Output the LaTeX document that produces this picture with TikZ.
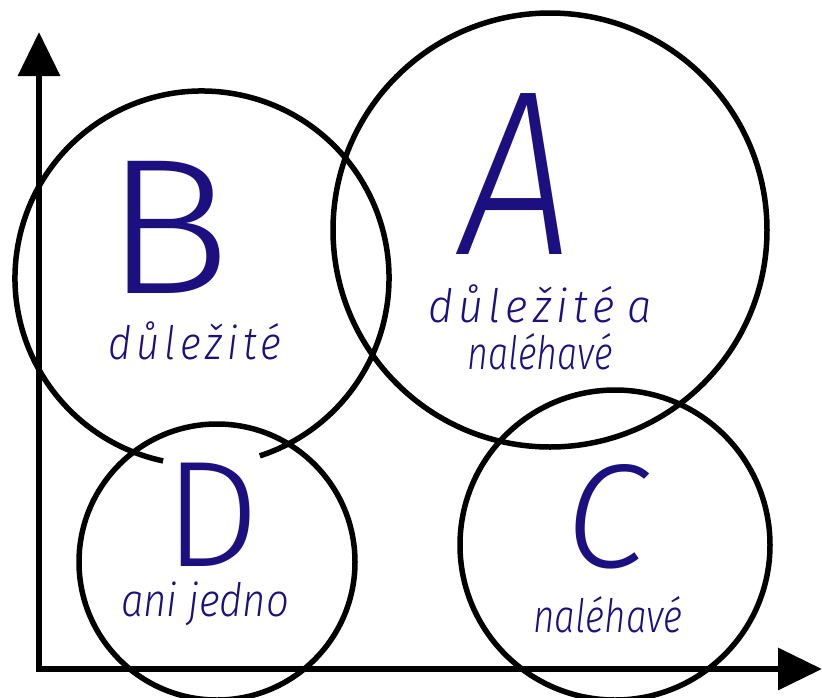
\documentclass[tikz,border=0pt]{standalone}
\usepackage{fontspec}
\setmainfont{Fira Sans Light}[ItalicFont={Fira Sans Light Italic}]
\usetikzlibrary{arrows.meta}
\definecolor{ink}{RGB}{28,16,128}
\newcommand{\captsq}[2]{\scalebox{#1}[1]{#2}}
\tikzset{
  x=1pt, y=-1pt,
  ring/.style={draw=black, line width=5.5pt},
  axis/.style={line width=6.5pt, -{Triangle[length=44pt,width=41pt]}},
  bigletter/.style={text=ink, inner sep=0pt, anchor=center},
  caption/.style={text=ink, inner sep=0pt, anchor=center, font=\itshape\fontsize{46}{50}\selectfont, align=center}
}
\begin{document}
\begin{tikzpicture}
\useasboundingbox (0,0) rectangle (822,697);
\fill[white] (0,0) rectangle (822,697);
% axes
\coordinate (ystart) at (39,672);
\coordinate (xstart) at (36,669);
\coordinate (ytip) at (39,32);
\coordinate (xtip) at (822,669);
\draw[axis] (ystart) -- (ytip);
\draw[axis] (xstart) -- (xtip);
% circles
\draw[ring] (550,230) circle[radius=217];
\draw[ring] (202,278) ++(102:187) arc[start angle=102, end angle=432, radius=187];
\draw[ring] (217,562) circle[radius=138];
\draw[ring] (615,545) circle[radius=155];
% letters
\node[bigletter, font=\fontsize{193}{193}\selectfont] (lB) at (168,227) {\scalebox{1.1}[1]{B}};
\node[bigletter, font=\itshape\fontsize{235}{235}\selectfont] (lA) at (517,174) {\scalebox{0.85}[1]{A}};
\node[bigletter, font=\fontsize{151}{151}\selectfont] (lD) at (212,515) {D};
\node[bigletter, font=\itshape\fontsize{148}{148}\selectfont] (lC) at (606,517) {C};
% captions
\node[caption] (tB) at (195,341) {\captsq{0.875}{\addfontfeature{LetterSpace=12}důležité}};
\node[caption] (tA1) at (540,304) {\captsq{0.94}{\addfontfeature{LetterSpace=12}důležité\kern0.3em a}};
\node[caption] (tA2) at (540,352) {\captsq{0.78}{naléhavé}};
\node[caption] (tD) at (205,604) {\captsq{0.87}{ani jedno}};
\node[caption] (tC) at (608,615) {\captsq{0.80}{naléhavé}};
\end{tikzpicture}
\end{document}
